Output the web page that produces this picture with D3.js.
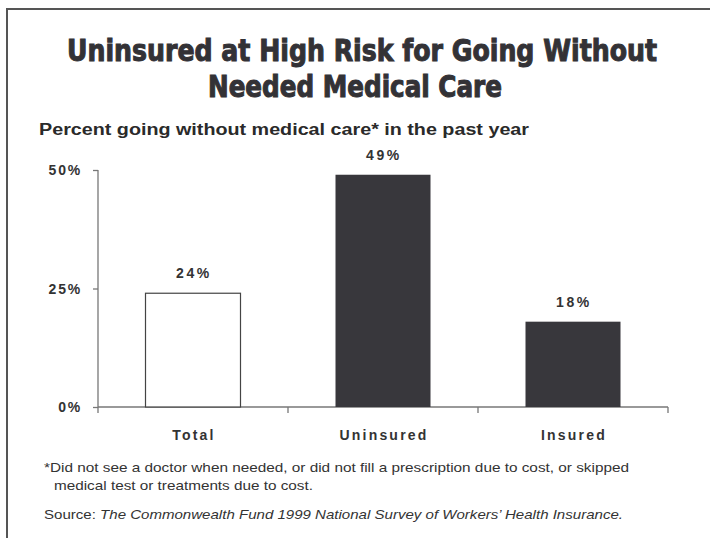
<!DOCTYPE html>
<html>
<head>
<meta charset="utf-8">
<script src="https://d3js.org/d3.v7.min.js"></script>
<style>
    body { margin: 0; background: #fff; }
    svg { display: block; }
    .title { font-family: "DejaVu Sans Condensed", "DejaVu Sans", sans-serif; font-stretch: condensed; font-weight: bold; font-size: 30px; fill: #333236; stroke: #333236; stroke-width: 1px; }
    .subtitle { font-family: "Liberation Sans", Arial, sans-serif; font-weight: bold; font-size: 16px; fill: #2a2a2a; }
    .lbl { font-family: "Liberation Sans", Arial, sans-serif; font-weight: bold; font-size: 14px; fill: #333; letter-spacing: 2.2px; }
    .note { font-family: "Liberation Sans", Arial, sans-serif; font-size: 13px; fill: #333; }
    .axis path, .axis line { stroke: #777; stroke-width: 1.3px; }
</style>
</head>
<body>
<script>

    // chart data
    var categories = ["Total", "Uninsured", "Insured"];
    var values = [24, 49, 18];
    var valueLabels = ["24%", "49%", "18%"];
    var barFills = ["#ffffff", "#38373c", "#38373c"];
    var yTicks = [0, 25, 50];
    var yTickLabels = ["0%", "25%", "50%"];

    var W = 710, H = 538;
    var margin = { top: 170, right: 42, bottom: 131, left: 98 };
    var width = W - margin.left - margin.right,
        height = H - margin.top - margin.bottom;

    var svg = d3.select("body").append("svg")
        .attr("width", W)
        .attr("height", H);

    // frame (top + left only)
    svg.append("path")
        .attr("d", "M7,538 V9 H710")
        .attr("fill", "none")
        .attr("stroke", "#555")
        .attr("stroke-width", 2);

    // titles
    svg.append("text").attr("class", "title")
        .attr("x", 362).attr("y", 61).attr("text-anchor", "middle")
        .attr("textLength", 590).attr("lengthAdjust", "spacingAndGlyphs")
        .text("Uninsured at High Risk for Going Without");
    svg.append("text").attr("class", "title")
        .attr("x", 355).attr("y", 97).attr("text-anchor", "middle")
        .attr("textLength", 294).attr("lengthAdjust", "spacingAndGlyphs")
        .text("Needed Medical Care");

    svg.append("text").attr("class", "subtitle")
        .attr("x", 39).attr("y", 135)
        .attr("textLength", 490).attr("lengthAdjust", "spacingAndGlyphs")
        .text("Percent going without medical care* in the past year");

    var g = svg.append("g")
        .attr("transform", "translate(" + margin.left + "," + margin.top + ")");

    var x = d3.scaleBand()
        .domain(categories)
        .range([0, width])
        .paddingInner(0.5)
        .paddingOuter(0.25);

    var y = d3.scaleLinear()
        .domain([0, 50])
        .range([height, 0]);

    // y axis
    var yAxis = g.append("g").attr("class", "axis")
        .call(d3.axisLeft(y).tickValues(yTicks).tickSize(5).tickSizeOuter(0)
            .tickFormat(function (d, i) { return yTickLabels[i]; }));
    yAxis.attr("font-size", null).attr("font-family", null);
    yAxis.select(".domain").remove();
    yAxis.append("line").attr("x1", 0).attr("x2", 0).attr("y1", y(50)).attr("y2", height);
    yAxis.selectAll("text").attr("class", "lbl").attr("x", -16).attr("dy", "0.35em")
        .style("letter-spacing", "1.8px");

    // x axis: ticks at band edges
    var edges = [0, 1, 2, 3].map(function (i) { return i * (width / 3); });
    var xg = g.append("g").attr("class", "axis");
    xg.append("line").attr("x1", 0).attr("x2", width).attr("y1", height).attr("y2", height);
    xg.selectAll(".xt").data(edges).enter().append("line")
        .attr("x1", function (d) { return d; }).attr("x2", function (d) { return d; })
        .attr("y1", height).attr("y2", height + 6);

    g.selectAll(".cat").data(categories).enter().append("text")
        .attr("class", "lbl")
        .attr("x", function (d) { return x(d) + x.bandwidth() / 2 + 1; })
        .attr("y", height + 33)
        .attr("text-anchor", "middle")
        .text(function (d) { return d; });

    // bars
    g.selectAll(".bar").data(values).enter().append("rect")
        .attr("x", function (d, i) { return x(categories[i]); })
        .attr("width", x.bandwidth())
        .attr("y", function (d) { return y(d); })
        .attr("height", function (d) { return height - y(d); })
        .attr("fill", function (d, i) { return barFills[i]; })
        .attr("stroke", function (d, i) { return i === 0 ? "#444" : "none"; })
        .attr("stroke-width", 1.2);

    g.selectAll(".val").data(values).enter().append("text")
        .attr("class", "lbl")
        .attr("x", function (d, i) { return x(categories[i]) + x.bandwidth() / 2 + 1; })
        .attr("y", function (d) { return y(d) - 15; })
        .attr("text-anchor", "middle")
        .style("letter-spacing", "2.6px")
        .text(function (d, i) { return valueLabels[i]; });

    // footnotes
    svg.append("text").attr("class", "note")
        .attr("x", 44).attr("y", 472)
        .attr("textLength", 585).attr("lengthAdjust", "spacingAndGlyphs")
        .text("*Did not see a doctor when needed, or did not fill a prescription due to cost, or skipped");
    svg.append("text").attr("class", "note")
        .attr("x", 54).attr("y", 490)
        .attr("textLength", 259).attr("lengthAdjust", "spacingAndGlyphs")
        .text("medical test or treatments due to cost.");
    var src = svg.append("text").attr("class", "note")
        .attr("x", 44).attr("y", 519)
        .attr("textLength", 579).attr("lengthAdjust", "spacingAndGlyphs");
    src.append("tspan").text("Source: ");
    src.append("tspan").style("font-style", "italic")
        .text("The Commonwealth Fund 1999 National Survey of Workers\u2019 Health Insurance.");

</script>
</body>
</html>
